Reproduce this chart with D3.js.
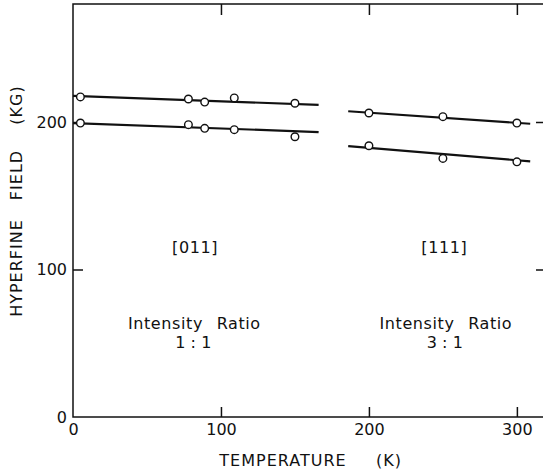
<!DOCTYPE html>
<html>
<head>
<meta charset="utf-8">
<script src="https://cdn.jsdelivr.net/npm/d3@7"></script>
<style>
  body { margin: 0; background: #fff; }
  svg text { font-family: "DejaVu Sans", sans-serif; fill: #111; }
</style>
</head>
<body>
<div id="main"></div>
<script>
// measured points, [011] orientation (T in K, field in kG)
const tempLeft = [5, 78, 89, 109, 150];
const fieldLeftUpper = [217, 215.6, 213.5, 216.3, 212.7];
const fieldLeftLower = [199.3, 198.2, 195.7, 194.8, 190];

// measured points, [111] orientation
const tempRight = [200, 250, 300];
const fieldRightUpper = [206.1, 203.6, 199.3];
const fieldRightLower = [183.9, 175.3, 173];

// fitted straight lines, [T0, T1] and [F0, F1]
const fitTempLeft = [0, 166];
const fitLeftUpper = [217.7, 211.6];
const fitLeftLower = [199.3, 193.2];
const fitTempRight = [186, 309];
const fitRightUpper = [207.3, 198.8];
const fitRightLower = [183.7, 173.3];

const xTicks = [0, 100, 200, 300];
const yTicks = [0, 100, 200];

const w = 543, h = 470;
const margin = {left: 73, top: 4, right: -2, bottom: 53};

const svg = d3.select("#main").append("svg").attr("width", w).attr("height", h);

const xScale = d3.scaleLinear().domain([0, 319]).range([margin.left, w - margin.right]);
const yScale = d3.scaleLinear().domain([0, 280]).range([h - margin.bottom, margin.top]);

const ink = "#111";

// frame
svg.append("rect")
    .attr("x", xScale(0)).attr("y", yScale(280))
    .attr("width", xScale(319) - xScale(0))
    .attr("height", yScale(0) - yScale(280))
    .attr("fill", "none").attr("stroke", ink).attr("stroke-width", 1.5);

// axes, ticks pointing inward
const xAxis = d3.axisBottom(xScale).tickValues(xTicks).tickSizeInner(-10).tickSizeOuter(0).tickPadding(7)
    .tickFormat(d3.format("d"));
const xAxisTop = d3.axisTop(xScale).tickValues([100, 200, 300]).tickSizeInner(-11).tickSizeOuter(0).tickFormat("");
const yAxis = d3.axisLeft(yScale).tickValues(yTicks).tickSizeInner(-10).tickSizeOuter(0).tickPadding(6)
    .tickFormat(d3.format("d"));
const yAxisRight = d3.axisRight(yScale).tickValues([100, 200]).tickSizeInner(-9).tickSizeOuter(0).tickFormat("");

function styleAxis(g) {
    g.select(".domain").remove();
    g.selectAll(".tick line").attr("stroke", ink).attr("stroke-width", 1.5);
    g.selectAll(".tick text").attr("font-size", 16).attr("fill", ink);
}

svg.append("g").attr("transform", "translate(0," + yScale(0) + ")").call(xAxis).call(styleAxis)
    .selectAll(".tick").filter(d => d === 0).select("line").remove();
svg.append("g").attr("transform", "translate(0," + yScale(280) + ")").call(xAxisTop).call(styleAxis);
svg.append("g").attr("transform", "translate(" + xScale(0) + ",0)").call(yAxis).call(styleAxis)
    .selectAll(".tick").filter(d => d === 0).select("line").remove();
svg.append("g").attr("transform", "translate(" + xScale(319) + ",0)").call(yAxisRight).call(styleAxis);

// fitted lines
const fits = [
    [fitTempLeft, fitLeftUpper], [fitTempLeft, fitLeftLower],
    [fitTempRight, fitRightUpper], [fitTempRight, fitRightLower]
];
const line = d3.line().x(d => xScale(d[0])).y(d => yScale(d[1]));
svg.selectAll(".fit")
    .data(fits)
    .enter()
    .append("path")
    .attr("class", "fit")
    .attr("d", d => line(d3.zip(d[0], d[1])))
    .attr("fill", "none")
    .attr("stroke", ink)
    .attr("stroke-width", 2.2);

// data points
const points = []
    .concat(d3.zip(tempLeft, fieldLeftUpper))
    .concat(d3.zip(tempLeft, fieldLeftLower))
    .concat(d3.zip(tempRight, fieldRightUpper))
    .concat(d3.zip(tempRight, fieldRightLower));

svg.selectAll(".pt")
    .data(points)
    .enter()
    .append("circle")
    .attr("class", "pt")
    .attr("cx", d => xScale(d[0]))
    .attr("cy", d => yScale(d[1]))
    .attr("r", 3.8)
    .attr("fill", "#fff")
    .attr("stroke", ink)
    .attr("stroke-width", 1.4);

// annotations
const notes = [
    {t: 82.5, f: 111, text: "[011]", ws: 0},
    {t: 251, f: 111, text: "[111]", ws: 0},
    {t: 82, f: 59.5, text: "Intensity Ratio", ws: 8},
    {t: 81.5, f: 47, text: "1 : 1", ws: -1},
    {t: 252, f: 59.5, text: "Intensity Ratio", ws: 8},
    {t: 251.5, f: 47, text: "3 : 1", ws: -1}
];
svg.selectAll(".note")
    .data(notes)
    .enter()
    .append("text")
    .attr("class", "note")
    .attr("x", d => xScale(d.t))
    .attr("y", d => yScale(d.f))
    .attr("text-anchor", "middle")
    .attr("font-size", 16)
    .attr("letter-spacing", 0.6)
    .attr("word-spacing", d => d.ws)
    .text(d => d.text);

// axis titles, word by word
const xTitle = [{x: 283, text: "TEMPERATURE"}, {x: 389, text: "(K)"}];
svg.selectAll(".xtitle")
    .data(xTitle)
    .enter()
    .append("text")
    .attr("class", "xtitle")
    .attr("x", d => d.x).attr("y", 466)
    .attr("text-anchor", "middle")
    .attr("font-size", 16)
    .attr("letter-spacing", 1)
    .text(d => d.text);

const yTitle = [{y: 268, text: "HYPERFINE"}, {y: 175, text: "FIELD"}, {y: 105, text: "(KG)"}];
svg.selectAll(".ytitle")
    .data(yTitle)
    .enter()
    .append("text")
    .attr("class", "ytitle")
    .attr("transform", d => "translate(22," + d.y + ") rotate(-90)")
    .attr("text-anchor", "middle")
    .attr("font-size", 16)
    .attr("letter-spacing", 1)
    .text(d => d.text);
</script>
</body>
</html>
